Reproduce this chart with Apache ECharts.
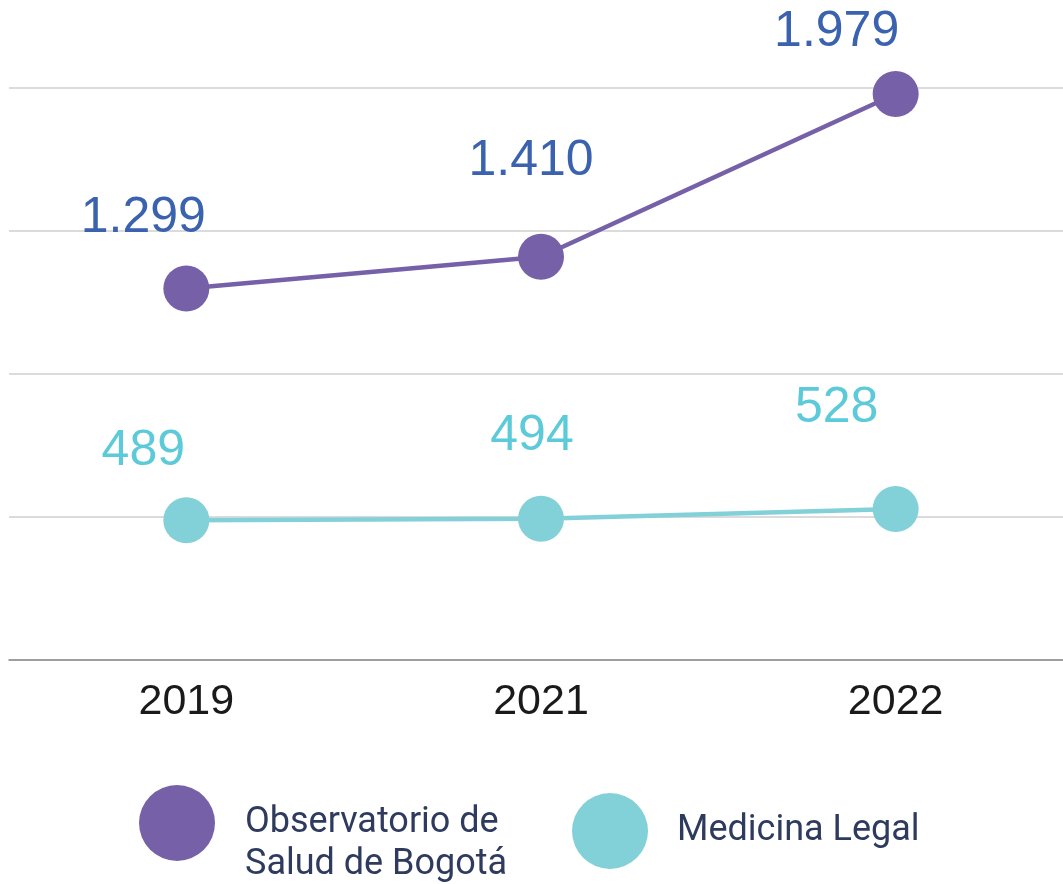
<!DOCTYPE html>
<html>
<head>
<meta charset="utf-8">
<script src="https://cdn.jsdelivr.net/npm/echarts@6/dist/echarts.min.js"></script>
<style>
html,body{margin:0;padding:0;background:#fff;}
#main{width:1063px;height:884px;}
</style>
</head>
<body>
<div id="main"></div>
<script>
// ---- data ----
var years = ['2019', '2021', '2022'];
var observatorio = [1299, 1410, 1979];
var medicina = [489, 494, 528];
var seriesNames = ['Observatorio de Salud de Bogotá', 'Medicina Legal'];
var yTicks = [0, 500, 1000, 1500, 2000];

// ---- layout (label offsets, not data) ----
var obsLabelOffsets = [[-43, -70], [-10, -96], [-59, -62]];
var medLabelOffsets = [[-43, -69], [-9, -82], [-59, -101]];

function fmt(v) {
  return String(v).replace(/\B(?=(\d{3})+(?!\d))/g, '.');
}
function build(values, offsets) {
  return values.map(function (v, i) {
    return { value: v, label: { offset: offsets[i] } };
  });
}

var chart = echarts.init(document.getElementById('main'), null, { renderer: 'canvas' });
var labelFont = '"Liberation Sans", Arial, Helvetica, sans-serif';
var legendFont = 'Roboto, "Noto Sans", sans-serif';

chart.setOption({
  animation: false,
  backgroundColor: '#ffffff',
  grid: { left: 9, right: -10, top: 88, bottom: 224, containLabel: false, outerBoundsMode: 'none' },
  legend: [
    {
      data: [seriesNames[0]],
      left: 139, top: 760, padding: 0,
      itemWidth: 76, itemHeight: 76, icon: 'circle',
      formatter: function () { return '\nObservatorio de\nSalud de Bogotá'; },
      textStyle: { fontFamily: legendFont, fontSize: 36, color: '#2e3b5e', lineHeight: 42, padding: [0, 0, 0, 25] },
      selectedMode: false
    },
    {
      data: [seriesNames[1]],
      left: 572, top: 793, padding: 0,
      itemWidth: 76, itemHeight: 76, icon: 'circle',
      textStyle: { fontFamily: legendFont, fontSize: 36, color: '#2e3b5e', padding: [0, 0, 0, 24] },
      selectedMode: false
    }
  ],
  xAxis: {
    type: 'category',
    data: years,
    boundaryGap: true,
    axisLine: { show: true, lineStyle: { color: '#8a8a8a', width: 1.5 } },
    axisTick: { show: false },
    axisLabel: { fontFamily: labelFont, fontSize: 43, color: '#1a1a1a', margin: 21 },
    splitLine: { show: false }
  },
  yAxis: {
    type: 'value',
    min: yTicks[0], max: yTicks[yTicks.length - 1], interval: 500,
    axisLine: { show: false }, axisTick: { show: false }, axisLabel: { show: false },
    splitLine: { show: true, lineStyle: { color: '#cfcfcf', width: 1.5 } }
  },
  series: [
    {
      name: seriesNames[0],
      type: 'line',
      data: build(observatorio, obsLabelOffsets),
      symbol: 'circle', symbolSize: 46,
      color: '#7660a8',
      itemStyle: { color: '#7660a8' },
      lineStyle: { color: '#7660a8', width: 4.5 },
      label: {
        show: true, position: 'inside',
        formatter: function (p) { return fmt(p.value); },
        fontFamily: labelFont, fontSize: 50, color: '#3a62ae'
      },
      z: 3
    },
    {
      name: seriesNames[1],
      type: 'line',
      data: build(medicina, medLabelOffsets),
      symbol: 'circle', symbolSize: 46,
      color: '#82d0d8',
      itemStyle: { color: '#82d0d8' },
      lineStyle: { color: '#82d0d8', width: 4.5 },
      label: {
        show: true, position: 'inside',
        formatter: function (p) { return fmt(p.value); },
        fontFamily: labelFont, fontSize: 50, color: '#5ccad9'
      },
      z: 3
    }
  ]
});
</script>
</body>
</html>
